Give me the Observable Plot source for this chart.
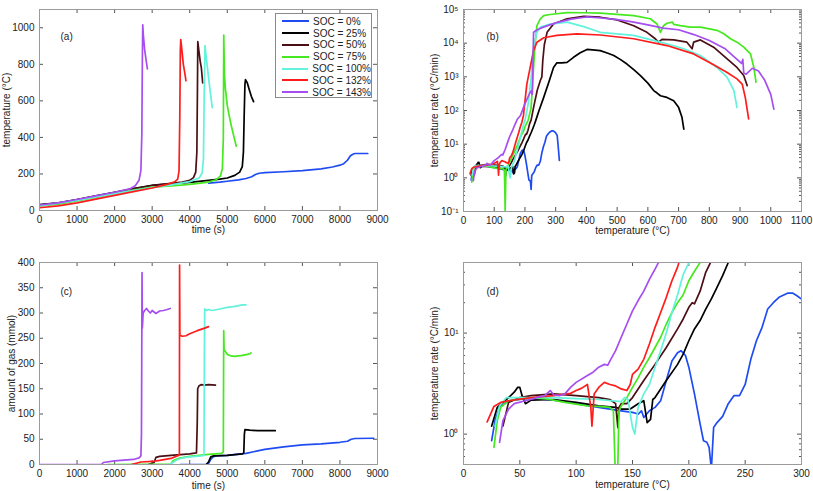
<!DOCTYPE html>
<html><head><meta charset="utf-8">
<script src="https://cdn.jsdelivr.net/npm/d3@7"></script>
<script src="https://cdn.jsdelivr.net/npm/@observablehq/plot@0.6"></script>
<style>
html,body{margin:0;padding:0;background:#fff;}
#wrap{position:relative;width:813px;height:491px;overflow:hidden;font-family:"Liberation Sans",Arial,sans-serif;}
.panel{position:absolute;}
#legend{position:absolute;left:275px;top:12.5px;width:97px;height:85px;border:1px solid #8a8a8a;background:#fff;box-sizing:border-box;font-size:10px;color:#222;padding-top:2px;}
.row{display:flex;align-items:center;height:11.8px;white-space:nowrap;}
.sw{display:inline-block;width:27px;height:0;border-top:2px solid;margin-left:6px;margin-right:4px;}
</style>
</head><body>
<div id="wrap"></div>
<script>
// ---------- series meta ----------
const socNames = ["SOC = 0%","SOC = 25%","SOC = 50%","SOC = 75%","SOC = 100%","SOC = 132%","SOC = 143%"];
const socColors = ["#1f4cf2","#000000","#4a0f14","#46e81f","#63f2dc","#ff1c1c","#a64ef0"];

// ---------- panel (a): temperature (°C) vs time (s) ----------
const a0   = [[4504,150],[4800,155],[5000,160],[5300,168],[5500,175],[5650,185],[5750,197],[5850,204],[6000,207],[6500,212],[7000,218],[7500,228],[7800,238],[8000,248],[8100,256],[8200,275],[8280,300],[8344,308],[8400,312],[8740,312]];
const a25  = [[0,32],[500,42],[1000,60],[1500,80],[2000,100],[2500,120],[3000,138],[3500,146],[4000,154],[4500,165],[4800,172],[5000,178],[5200,192],[5330,210],[5400,240],[5430,320],[5450,520],[5470,690],[5485,716],[5530,700],[5580,665],[5640,625],[5700,596]];
const a50  = [[0,30],[500,41],[1000,58],[1500,78],[2000,98],[2500,118],[3000,137],[3500,148],[3800,155],[4000,165],[4100,180],[4160,210],[4190,320],[4205,650],[4215,925],[4240,880],[4280,815],[4310,780],[4345,698]];
const a75  = [[0,25],[500,35],[1000,52],[1500,72],[2000,92],[2500,112],[3000,128],[3500,134],[4000,143],[4500,155],[4700,168],[4820,190],[4870,230],[4895,400],[4906,960],[4925,740],[4953,660],[5000,575],[5040,530],[5100,470],[5170,410],[5240,352]];
const a100 = [[0,25],[1000,55],[2000,92],[3000,125],[3500,140],[4000,158],[4250,178],[4330,205],[4365,280],[4385,620],[4407,902],[4450,820],[4500,730],[4550,645],[4600,563]];
const a132 = [[0,15],[500,25],[1000,42],[1500,62],[2000,83],[2500,103],[3000,123],[3400,143],[3600,157],[3680,172],[3715,215],[3735,500],[3750,880],[3762,935],[3790,880],[3830,800],[3870,750],[3900,710]];
const a143 = [[0,30],[500,42],[1000,60],[1500,80],[2000,100],[2400,118],[2550,135],[2650,165],[2700,220],[2725,420],[2738,800],[2749,1016],[2765,960],[2800,880],[2840,820],[2873,775]];

// ---------- panels (b) and (d): temperature rate (°C/min) vs temperature (°C) ----------
const r0   = [[25,0.86],[28,1.36],[32,1.84],[40,2.14],[60,2.27],[80,2.17],[100,2.0],[120,1.84],[140,1.7],[150,1.64],[155,1.58],[158,1.7],[160,1.46],[165,1.7],[170,1.84],[175,2.14],[180,3.4],[185,5.3],[190,6.4],[193,6.7],[197,6.0],[200,4.6],[205,2.5],[210,1.26],[213,0.86],[216,0.83],[218,0.74],[220,0.45],[222,1.16],[225,1.3],[230,1.5],[235,2.0],[240,2.4],[245,2.4],[250,3.1],[255,5.5],[260,8.4],[265,11.4],[270,17.3],[275,20],[280,22.6],[288,24.9],[292,24.9],[296,23.4],[300,21.7],[305,18],[308,9],[312,3.3]];
const r25  = [[25,1.2],[30,1.84],[40,2.3],[45,2.6],[48,2.9],[50,2.9],[52,2.4],[55,2.0],[60,2.17],[80,2.2],[100,2.06],[120,1.9],[135,1.84],[140,1.77],[148,1.77],[155,2.0],[160,2.14],[163,1.3],[166,1.4],[168,2.2],[170,2.3],[180,3.4],[190,4.9],[195,6.2],[200,8.4],[205,11],[210,13.3],[215,17.3],[220,21.8],[225,28.3],[230,37],[235,50],[245,95],[261,245],[280,800],[293,1900],[304,2600],[320,2600],[337,2700],[358,3800],[380,5200],[402,6500],[420,6300],[445,6000],[470,5000],[489,4300],[510,3300],[532,2400],[555,1600],[575,1100],[600,650],[619,390],[630,330],[641,275],[662,245],[684,195],[700,124],[711,63],[717,28]];
const r50  = [[35,1.2],[40,2.06],[50,2.3],[60,2.4],[80,2.5],[100,2.4],[120,2.3],[130,2.2],[135,2.0],[137,1.16],[138,1.84],[140,2.0],[145,2.0],[150,2.3],[155,2.8],[160,3.4],[170,4.9],[180,7.2],[190,11],[195,13.8],[200,18],[203,20],[205,19.5],[210,26],[215,40],[220,52],[230,150],[240,400],[250,780],[255,1000],[258,3000],[263,9000],[272,21000],[293,37000],[337,53000],[391,63000],[445,59000],[500,49000],[554,33000],[597,21000],[624,13500],[635,10700],[646,13000],[684,12500],[727,10700],[744,6800],[749,10700],[771,12500],[814,7600],[858,3400],[890,1900],[912,1100],[923,550]];
const r75  = [[27,0.74],[30,1.36],[33,1.84],[40,2.14],[60,2.3],[75,2.22],[90,2.06],[100,1.98],[110,1.9],[120,1.88],[130,1.84],[133,1.7],[134.5,0.5],[135.5,0.1],[137,0.5],[138,1.7],[140,1.9],[145,2.3],[150,2.9],[155,3.6],[160,4.6],[165,5.7],[170,7.2],[175,9.1],[180,12.3],[185,16],[190,20],[195,24],[200,33],[205,41],[210,50],[220,120],[228,1900],[233,9500],[239,33000],[250,53000],[261,66000],[282,71000],[337,81000],[391,80000],[445,78000],[554,66000],[608,53000],[630,37000],[641,21000],[651,33000],[662,39000],[680,42000],[684,36000],[706,33000],[738,30000],[771,30000],[825,24000],[847,19000],[869,13500],[890,10700],[912,7600],[934,4800],[945,1900],[952,690]];
const r100 = [[28,1.2],[32,1.9],[38,2.3],[60,2.3],[80,2.3],[100,2.25],[120,2.2],[140,2.1],[143,2.3],[146,2.2],[150,1.16],[152,1.0],[155,1.84],[160,2.5],[165,3.1],[170,4.6],[175,6.7],[180,10],[185,16],[190,24],[195,38],[200,50],[210,150],[220,900],[228,7600],[239,21000],[250,30000],[282,37000],[337,42000],[391,31000],[445,21000],[554,17000],[662,9500],[717,6800],[771,4300],[825,1900],[858,970],[880,390],[890,123]];
const r132 = [[21,1.32],[27,1.88],[33,2.06],[40,2.14],[60,2.3],[80,2.4],[95,2.53],[100,2.7],[105,2.85],[110,3.1],[113,1.84],[114,1.2],[116,2.5],[120,2.9],[125,3.25],[130,3.1],[135,3.0],[140,2.8],[145,2.7],[148,3.1],[150,3.9],[155,4.4],[160,5.5],[165,7.8],[170,11.4],[175,16],[180,22.6],[185,33],[190,45],[195,70],[206,600],[217,1900],[228,6000],[239,10700],[261,14500],[304,17000],[369,19000],[445,17500],[554,13500],[662,8500],[749,4800],[814,2300],[858,1350],[890,870],[907,610],[917,245],[928,56]];
const r143 = [[32,0.83],[35,1.36],[40,1.77],[45,2.0],[55,2.14],[65,2.3],[72,2.4],[77,2.7],[80,2.45],[85,2.4],[90,2.5],[95,2.9],[100,3.25],[110,3.8],[115,4.1],[120,4.6],[125,4.9],[128,4.8],[130,5.3],[135,6.7],[140,9.1],[145,12.3],[150,16.6],[155,21],[160,26],[165,34],[170,43],[175,55],[185,70],[200,160],[215,320],[220,380],[224,300],[228,21000],[240,25000],[260,30000],[300,40000],[350,52000],[400,60000],[450,56000],[500,50000],[550,43000],[600,35000],[650,28000],[700,25000],[750,18000],[800,12000],[850,7000],[880,4000],[905,2500],[909,3300],[912,1300],[920,1200],[940,1800],[960,1500],[980,800],[1000,300],[1010,110]];

// ---------- panel (c): amount of gas (mmol) vs time (s) ----------
const c0   = [[3750,0],[4450,0],[4500,2],[4560,10],[4620,15],[4700,17],[5000,18],[5500,22],[6000,30],[6500,35],[7000,39],[7500,41],[8000,44],[8200,46],[8300,50],[8400,51.5],[8900,52]];
const c25  = [[4440,0],[4500,5],[4560,15],[4640,17],[5000,18],[5400,21],[5440,23],[5455,60],[5470,69],[5600,68],[5800,67],[6000,67],[6278,67]];
const c50  = [[2900,0],[3050,4],[3100,14],[3200,16],[3500,18],[4000,21],[4180,23],[4200,80],[4212,150],[4250,156],[4300,158],[4400,157],[4500,158],[4686,157]];
const c75  = [[1800,0],[3500,1],[3560,8],[3700,12],[4000,16],[4500,20],[4850,22],[4895,25],[4905,265],[4915,228],[5000,218],[5100,215],[5200,214],[5400,216],[5600,219],[5631,221]];
const c100 = [[3450,0],[3550,4],[3650,9],[3800,13],[4000,15],[4300,17],[4380,18],[4390,200],[4398,308],[4450,305],[4500,307],[4600,305],[4800,308],[5000,311],[5200,313],[5400,316],[5497,316]];
const c132 = [[2450,0],[2600,3],[2700,5],[3000,6],[3200,8],[3500,12],[3700,18],[3725,20],[3730,395],[3738,256],[3800,254],[3900,255],[4000,259],[4200,265],[4400,270],[4500,273]];
const c143 = [[0,0],[1650,0],[1700,4],[2000,7],[2500,10],[2650,13],[2700,17],[2715,60],[2722,200],[2730,380],[2738,270],[2760,300],[2800,305],[2850,309],[2900,304],[2950,300],[3000,305],[3050,302],[3100,299],[3200,304],[3300,305],[3400,307],[3480,309]];

// ---------- ticks ----------
const timeTicks = [0,1000,2000,3000,4000,5000,6000,7000,8000,9000];
const tempTicksA = [0,200,400,600,800,1000];
const tempTicksB = [0,100,200,300,400,500,600,700,800,900,1000,1100];
const rateTicksB = [0.1,1,10,100,1000,10000,100000];
const gasTicks = [0,50,100,150,200,250,300,350,400];
const tempTicksD = [0,50,100,150,200,250,300];
const rateTicksD = [1,10];

// ---------- build tables ----------
function table(list) {
  const rows = [];
  list.forEach((arr, i) => arr.forEach(([x, y]) => rows.push({x, y, s: socNames[i]})));
  return rows;
}
const dataA = table([a0,a25,a50,a75,a100,a132,a143]);
const dataR = table([r0,r25,r50,r75,r100,r132,r143]);
const dataC = table([c0,c25,c50,c75,c100,c132,c143]);

const sup = {"-":"\u207B","0":"\u2070","1":"\u00B9","2":"\u00B2","3":"\u00B3","4":"\u2074","5":"\u2075","6":"\u2076","7":"\u2077","8":"\u2078","9":"\u2079"};
const powFmt = d => "10" + String(Math.round(Math.log10(d))).split("").map(c => sup[c]).join("");
const minorLog = (lo, hi) => { const out = []; for (let e = Math.floor(Math.log10(lo)); e < Math.log10(hi); e++) for (let m = 2; m <= 9; m++) { const v = m * Math.pow(10, e); if (v > lo && v < hi) out.push(v); } return out; };

function makePanel(o) {
  const fw = o.width - o.ml - o.mr, fh = o.height - o.mt - o.mb;
  const T = 4, t = 2, ts = "#555";
  const marks = [
    Plot.tickX(o.xTicks, {x: d => d, insetTop: fh - T, stroke: ts}),
    Plot.tickX(o.xTicks, {x: d => d, insetBottom: fh - T, stroke: ts}),
    Plot.tickY(o.yTicks, {y: d => d, insetRight: fw - T, stroke: ts}),
    Plot.tickY(o.yTicks, {y: d => d, insetLeft: fw - T, stroke: ts})
  ];
  if (o.yMinor) {
    marks.push(Plot.tickY(o.yMinor, {y: d => d, insetRight: fw - t, stroke: ts}));
    marks.push(Plot.tickY(o.yMinor, {y: d => d, insetLeft: fw - t, stroke: ts}));
  }
  marks.push(
    Plot.axisX({ticks: o.xTicks, tickSize: 0, tickPadding: 5, tickFormat: d => String(d), label: o.xLabel, labelAnchor: "center", labelArrow: "none", labelOffset: o.xlo}),
    Plot.axisY({ticks: o.yTicks, tickSize: 0, tickPadding: 5, tickFormat: o.yFmt || (d => String(d)), label: o.yLabel, labelAnchor: "center", labelArrow: "none", labelOffset: o.ylo}),
    Plot.line(o.data, {x: "x", y: "y", z: "s", stroke: "s", strokeWidth: 1.7, clip: true}),
    Plot.frame({stroke: "#9b9b9b"}),
    Plot.text([o.tag], {text: d => d, frameAnchor: "top-left", textAnchor: "start", lineAnchor: "middle", dx: o.tdx, dy: o.tdy, fontSize: 10, fill: "#222"})
  );
  const svg = Plot.plot({
    width: o.width, height: o.height,
    marginTop: o.mt, marginRight: o.mr, marginBottom: o.mb, marginLeft: o.ml,
    x: {type: "linear", domain: o.xDomain},
    y: {type: o.yType || "linear", domain: o.yDomain},
    color: {domain: socNames, range: socColors},
    style: {fontFamily: "'Liberation Sans', Arial, sans-serif", fontSize: "10px", color: "#222", background: "transparent", overflow: "visible"},
    marks
  });
  const div = document.createElement("div");
  div.className = "panel";
  div.style.left = o.left + "px";
  div.style.top = o.top + "px";
  div.appendChild(svg);
  document.getElementById("wrap").appendChild(div);
}

makePanel({left: 0, top: 0, width: 400, height: 240, mt: 9, mr: 23, mb: 30, ml: 39,
  data: dataA, xDomain: [0, 9000], yDomain: [0, 1100], xTicks: timeTicks, yTicks: tempTicksA,
  xLabel: "time (s)", yLabel: "temperature (\u00B0C)", xlo: 22, ylo: 37, tag: "(a)", tdx: 21, tdy: 27});

makePanel({left: 400, top: 0, width: 413, height: 240, mt: 9, mr: 12, mb: 29, ml: 63,
  data: dataR, xDomain: [0, 1100], yDomain: [0.1, 100000], yType: "log", xTicks: tempTicksB, yTicks: rateTicksB,
  yMinor: minorLog(0.1, 100000), yFmt: powFmt,
  xLabel: "temperature (\u00B0C)", yLabel: "temperature rate (\u00B0C/min)", xlo: 22, ylo: 33, tag: "(b)", tdx: 23, tdy: 27});

makePanel({left: 0, top: 240, width: 400, height: 251, mt: 22, mr: 23, mb: 27, ml: 39,
  data: dataC, xDomain: [0, 9000], yDomain: [0, 400], xTicks: timeTicks, yTicks: gasTicks,
  xLabel: "time (s)", yLabel: "amount of gas (mmol)", xlo: 24, ylo: 32, tag: "(c)", tdx: 21, tdy: 29});

makePanel({left: 400, top: 240, width: 413, height: 251, mt: 22, mr: 12, mb: 27, ml: 63,
  data: dataR, xDomain: [0, 300], yDomain: [0.5, 50], yType: "log", xTicks: tempTicksD, yTicks: rateTicksD,
  yMinor: minorLog(0.5, 50).concat([0.5, 50]), yFmt: powFmt,
  xLabel: "temperature (\u00B0C)", yLabel: "temperature rate (\u00B0C/min)", xlo: 23, ylo: 33, tag: "(d)", tdx: 23, tdy: 29});

// ---------- legend (panel a) ----------
const lg = document.createElement("div");
lg.id = "legend";
socNames.forEach((n, i) => {
  const r = document.createElement("div");
  r.className = "row";
  const sw = document.createElement("span");
  sw.className = "sw";
  sw.style.borderTopColor = socColors[i];
  const tx = document.createElement("span");
  tx.textContent = n;
  r.appendChild(sw); r.appendChild(tx);
  lg.appendChild(r);
});
document.getElementById("wrap").appendChild(lg);
</script>
</body></html>
